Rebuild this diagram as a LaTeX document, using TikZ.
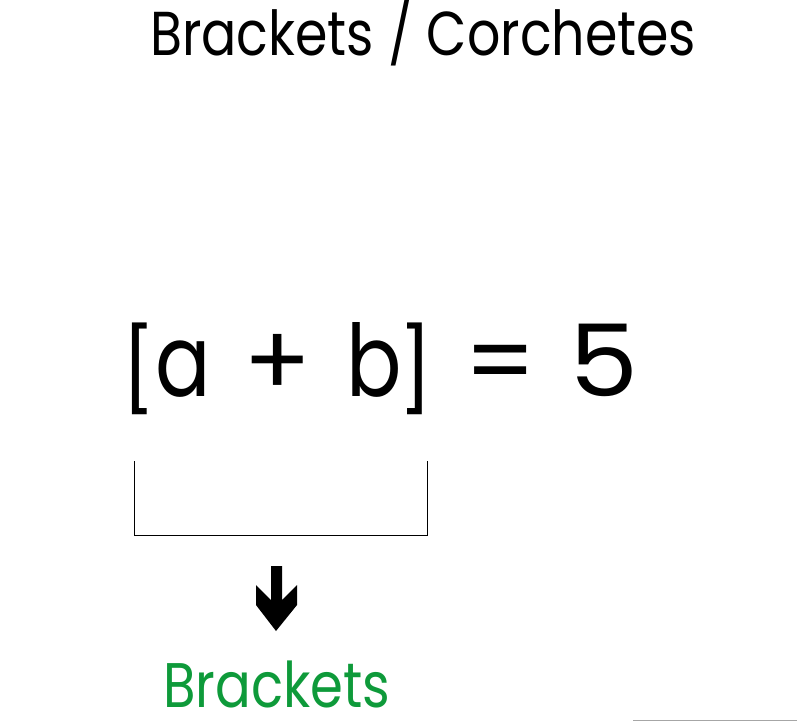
\documentclass[tikz,border=0pt]{standalone}
\usepackage{fontspec}
\setmainfont{Poppins}
\definecolor{brgreen}{HTML}{0E9A3A}
\begin{document}
\begin{tikzpicture}[x=1pt,y=-1pt,
  glyph/.style={inner sep=0pt,anchor=base,font=\fontsize{100}{100}\selectfont},
  brk/.style={inner sep=0pt,anchor=base,font=\fontsize{82}{82}\selectfont},
  title/.style={inner sep=0pt,anchor=base west,font=\fontsize{62}{62}\selectfont}]
\useasboundingbox (0,0) rectangle (797,721);
\node[title] (title) at (150,55) {\scalebox{0.842}[1]{Brackets / Corchetes}};
\node[brk] (lb) at (139,399) {[};
\node[glyph] (ga) at (183,396) {\scalebox{0.82}[1]{a}};
\node[glyph] (plus) at (278,396) {+};
\node[glyph] (gb) at (374,396) {\scalebox{0.82}[1]{b}};
\node[brk] (rb) at (416,399) {]};
\node[glyph] (eq) at (501,396) {=};
\node[glyph] (five) at (604,396) {\scalebox{1.1}[1]{5}};
\draw[line width=1pt] (134,461) -- (134,535) -- (427,535) -- (427,461);
\fill (271,566) -- (282,566) -- (282,600) -- (297,585) -- (297,605) -- (276,631) -- (256,605) -- (256,585) -- (271,600) -- cycle;
\node[title,font=\fontsize{63}{63}\selectfont,text=brgreen] (green) at (163,707) {\scalebox{0.84}[1]{Brackets}};
\draw[gray!70,line width=1pt] (633,720) -- (797,720);
\end{tikzpicture}
\end{document}
